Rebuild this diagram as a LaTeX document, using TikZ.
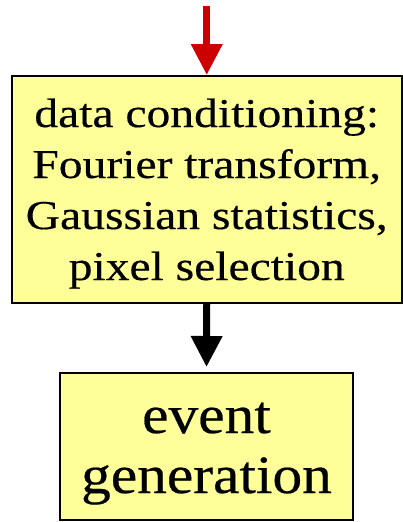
\documentclass[tikz,border=0pt]{standalone}
\usepackage{fontspec}
\setmainfont[FakeStretch=1.16,FakeBold=0.4]{Liberation Serif}
\newfontfamily\evfont[FakeStretch=1.1,FakeBold=0.4]{Liberation Serif}
\usetikzlibrary{arrows.meta}
\definecolor{boxfill}{RGB}{255,255,153}
\definecolor{arrowred}{RGB}{204,0,0}
\begin{document}
\begin{tikzpicture}[x=1pt,y=1pt,
  procbox/.style={draw=black, line width=2pt, fill=boxfill, align=center, inner sep=0pt},
  flow/.style={line width=7pt, -{Triangle[width=30pt,length=31pt]}}]
\useasboundingbox (0,0) rectangle (403,-522);
\node[procbox, minimum width=389.5pt, minimum height=227pt,
      font=\fontsize{41}{51}\selectfont] (cond) at (206.75,-189.5)
  {\raisebox{0pt}[0pt][125pt]{\begin{tabular}[t]{@{}c@{}}data conditioning:\\Fourier transform,\\Gaussian statistics,\\pixel selection\end{tabular}}};
\node[procbox, minimum width=293pt, minimum height=147pt,
      font=\evfont\fontsize{54}{60}\selectfont] (event) at (206.5,-446.5)
  {\raisebox{0pt}[0pt][27pt]{\begin{tabular}[t]{@{}c@{}}event\\generation\end{tabular}}};
\coordinate (in) at (206.75,-6);
\draw[flow, arrowred] (in) -- (cond.north);
\draw[flow, black, shorten >=5pt] (cond.south) -- (event.north);
\end{tikzpicture}
\end{document}
